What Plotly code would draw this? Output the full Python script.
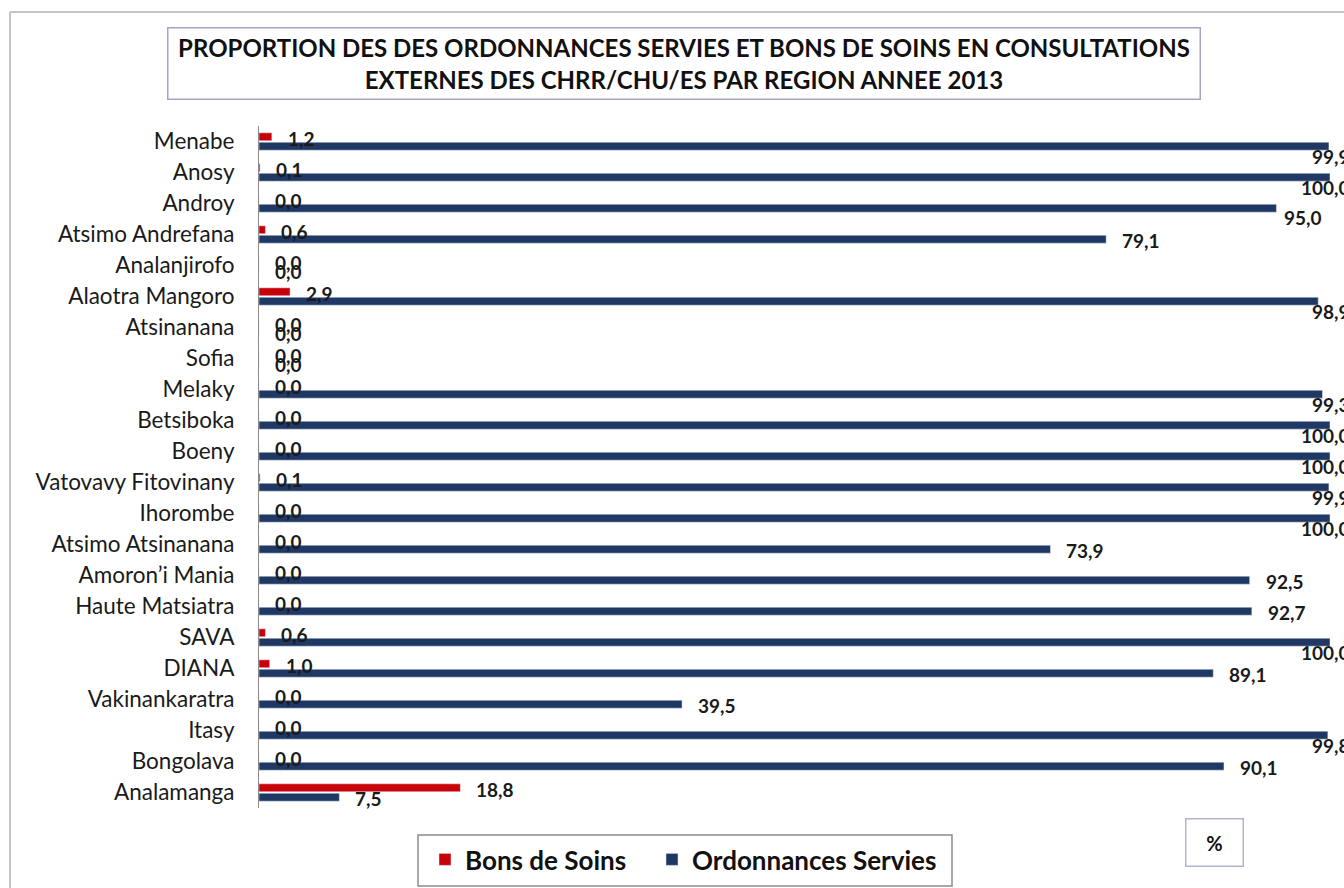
import plotly.graph_objects as go

categories = ["Menabe", "Anosy", "Androy", "Atsimo Andrefana", "Analanjirofo",
              "Alaotra Mangoro", "Atsinanana", "Sofia", "Melaky", "Betsiboka",
              "Boeny", "Vatovavy Fitovinany", "Ihorombe", "Atsimo Atsinanana",
              "Amoron\u2019i Mania", "Haute Matsiatra", "SAVA", "DIANA",
              "Vakinankaratra", "Itasy", "Bongolava", "Analamanga"]
bons_de_soins = [1.2, 0.1, 0.0, 0.6, 0.0, 2.9, 0.0, 0.0, 0.0, 0.0, 0.0,
                 0.1, 0.0, 0.0, 0.0, 0.0, 0.6, 1.0, 0.0, 0.0, 0.0, 18.8]
ordonnances = [99.9, 100.0, 95.0, 79.1, 0.0, 98.9, 0.0, 0.0, 99.3, 100.0, 100.0,
               99.9, 100.0, 73.9, 92.5, 92.7, 100.0, 89.1, 39.5, 99.8, 90.1, 7.5]

title_lines = ["PROPORTION DES DES ORDONNANCES SERVIES ET BONS DE SOINS EN CONSULTATIONS",
               "EXTERNES DES CHRR/CHU/ES PAR REGION ANNEE 2013"]

RED = "#c8000a"
BLUE = "#1f3864"
FONT = "Lato"

W, H = 1344, 888
ML, MT = 259, 126
MR = 0
MB = H - 808
PW, PH = W - ML - MR, H - MT - MB
PX_PER_UNIT = 10.71


def px_x(px):
    return (px - ML) / PW


def px_y(py):
    return (H - MB - py) / PH


fig = go.Figure()
fig.add_trace(go.Bar(y=categories, x=bons_de_soins, orientation="h",
                     name="Bons de Soins", marker_color=RED, legend="legend"))
fig.add_trace(go.Bar(y=categories, x=ordonnances, orientation="h",
                     name="Ordonnances Servies", marker_color=BLUE, legend="legend2"))


def fmt(v):
    return f"{v:.1f}".replace(".", ",")


annotations = []
lab_font = dict(family=FONT, size=19, color="#1a1a1a", weight="bold")
for cat, v in zip(categories, bons_de_soins):
    annotations.append(dict(x=v, y=cat, xref="x", yref="y", text=fmt(v),
                            showarrow=False, xanchor="left", yanchor="middle",
                            xshift=14, yshift=3, font=lab_font))
for cat, v in zip(categories, ordonnances):
    if v >= 98:
        annotations.append(dict(x=px_x(1352), y=cat, xref="paper", yref="y",
                                text=fmt(v), showarrow=False, xanchor="right",
                                yanchor="middle", yshift=-15, font=lab_font))
    elif v >= 94:
        annotations.append(dict(x=v, y=cat, xref="x", yref="y", text=fmt(v),
                                showarrow=False, xanchor="left", yanchor="middle",
                                xshift=6, yshift=-14, font=lab_font))
    else:
        annotations.append(dict(x=v, y=cat, xref="x", yref="y", text=fmt(v),
                                showarrow=False, xanchor="left", yanchor="middle",
                                xshift=14, yshift=-6, font=lab_font))

# title box
annotations.append(dict(x=px_x(683.5), y=px_y(63.5), xref="paper", yref="paper",
                        text="<br>".join(title_lines), showarrow=False,
                        xanchor="center", yanchor="middle", width=1031, height=70,
                        borderpad=0, bordercolor="#a4a4cc", borderwidth=1.5,
                        bgcolor="white",
                        font=dict(family=FONT, size=24, color="#111", weight="bold")))
# % box
annotations.append(dict(x=px_x(1214), y=px_y(842), xref="paper", yref="paper",
                        text="%", showarrow=False, xanchor="center", yanchor="middle",
                        width=56, height=46, borderpad=0, bordercolor="#b0b4cc",
                        borderwidth=1.5, bgcolor="white",
                        font=dict(family=FONT, size=20, color="#111", weight="bold")))

shapes = [
    dict(type="line", xref="paper", yref="paper", x0=px_x(10), x1=px_x(1344),
         y0=px_y(12), y1=px_y(12), line=dict(color="#c4c4c4", width=2)),
    dict(type="line", xref="paper", yref="paper", x0=px_x(10), x1=px_x(10),
         y0=px_y(12), y1=px_y(888), line=dict(color="#c4c4c4", width=2)),
    # legend frame
    dict(type="rect", xref="paper", yref="paper", x0=px_x(418), x1=px_x(952),
         y0=px_y(835), y1=px_y(886), line=dict(color="#8c8c8c", width=1.5),
         fillcolor="white", layer="below"),
]

leg_font = dict(family=FONT, size=26, color="#111", weight="bold")
fig.update_layout(
    width=W, height=H,
    margin=dict(l=ML, r=MR, t=MT, b=MB, autoexpand=False),
    paper_bgcolor="white", plot_bgcolor="white",
    barmode="group", bargap=0.39, bargroupgap=0.16,
    showlegend=True,
    legend=dict(orientation="h", x=px_x(425), y=px_y(836), xanchor="left",
                yanchor="top", borderwidth=0, bgcolor="rgba(0,0,0,0)",
                font=leg_font),
    legend2=dict(orientation="h", x=px_x(652), y=px_y(836), xanchor="left",
                 yanchor="top", borderwidth=0, bgcolor="rgba(0,0,0,0)",
                 font=leg_font),
    xaxis=dict(visible=False, range=[0, PW / PX_PER_UNIT]),
    yaxis=dict(range=[len(categories) - 0.5, -0.5], autorange=False,
               showline=True, linecolor="#8a8a8a",
               linewidth=1, ticks="", showgrid=False, zeroline=False,
               ticklabelstandoff=19,
               tickfont=dict(family=FONT, size=22.5, color="#1a1a1a")),
    annotations=annotations, shapes=shapes,
)

fig.write_html("out.html", config={"displayModeBar": False},
               post_script="document.body.style.margin='0px';"
                           "document.body.style.overflow='hidden';")
